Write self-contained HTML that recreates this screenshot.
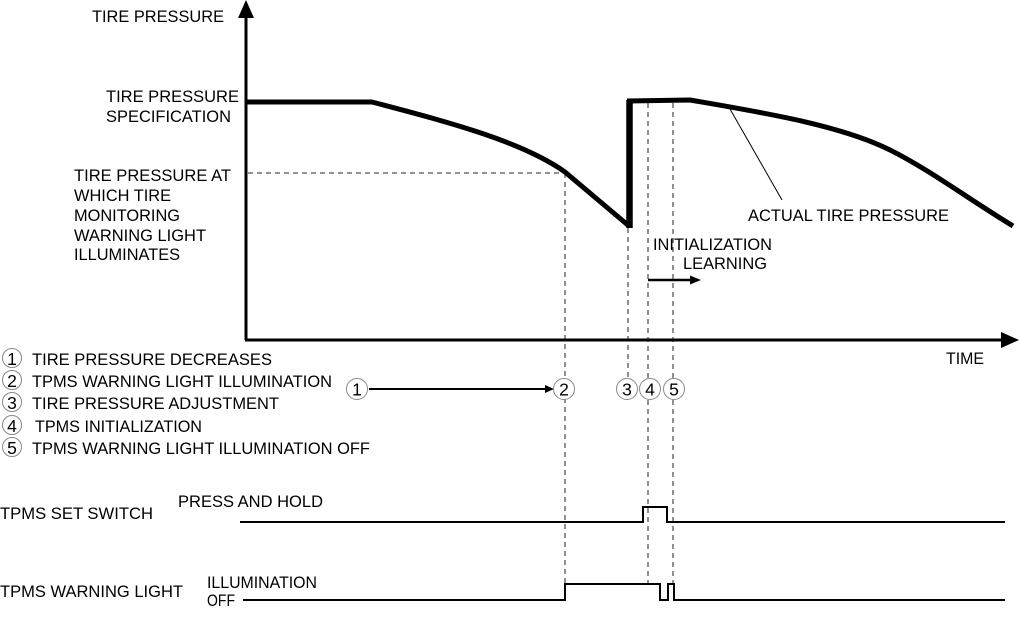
<!DOCTYPE html>
<html><head><meta charset="utf-8"><style>
html,body{margin:0;padding:0;background:#fff;}
svg{display:block;}
text{font-family:"Liberation Sans",Arial,sans-serif;font-size:16.5px;fill:#000;}
.d{stroke:#555;stroke-width:1.3;stroke-dasharray:5 4;fill:none;}
.c{fill:#fff;stroke:#888;stroke-width:1;}
.n{font-size:17.5px;text-anchor:middle;}
</style></head><body>
<svg width="1019" height="634" viewBox="0 0 1019 634" xmlns="http://www.w3.org/2000/svg">
<!-- dashed guides -->
<line class="d" x1="248" y1="173" x2="565" y2="173"/>
<line class="d" x1="565" y1="173" x2="565" y2="584"/>
<line class="d" x1="628" y1="228" x2="628" y2="378"/>
<line class="d" x1="648" y1="103" x2="648" y2="584"/>
<line class="d" x1="673" y1="103" x2="673" y2="584"/>

<!-- axes -->
<line x1="246" y1="340" x2="246" y2="15" stroke="#000" stroke-width="3"/>
<polygon points="246,0 238,18 254,18" fill="#000"/>
<line x1="245" y1="340" x2="1003" y2="340" stroke="#000" stroke-width="3"/>
<polygon points="1019,340 1001,332 1001,348" fill="#000"/>

<!-- pressure curve -->
<path d="M246,102 L372,102 C440,120 520,140 565,172 L629,226" fill="none" stroke="#000" stroke-width="5" stroke-linejoin="round"/>
<line x1="629.5" y1="228" x2="629.5" y2="100" stroke="#000" stroke-width="6.5"/>
<path d="M627,101 L690,100 C760,112 840,125 890,150 C930,170 970,200 1013,226" fill="none" stroke="#000" stroke-width="5" stroke-linejoin="round"/>
<line x1="730" y1="109" x2="782" y2="200" stroke="#000" stroke-width="1"/>

<!-- initialization arrow -->
<line x1="648" y1="280" x2="691" y2="280" stroke="#000" stroke-width="2.5"/>
<polygon points="701,280 690,275.5 690,284.5" fill="#000"/>

<!-- timeline arrow 1 -> 2 -->
<line x1="369" y1="389" x2="547" y2="389" stroke="#000" stroke-width="2"/>
<polygon points="554,389 545,385 545,393" fill="#000"/>

<!-- timeline circles -->
<circle class="c" cx="357" cy="389" r="10.5"/><text class="n" x="357" y="395.5">1</text>
<circle class="c" cx="564" cy="389" r="10.5"/><text class="n" x="564" y="395.5">2</text>
<circle class="c" cx="627" cy="389" r="10.5"/><text class="n" x="627" y="395.5">3</text>
<circle class="c" cx="650" cy="389" r="10.5"/><text class="n" x="650" y="395.5">4</text>
<circle class="c" cx="674" cy="389" r="10.5"/><text class="n" x="674" y="395.5">5</text>

<!-- signals -->
<polyline points="240,522 643,522 643,507 667,507 667,522 1005,522" fill="none" stroke="#000" stroke-width="2"/>
<polyline points="243,600 565,600 565,584 660,584 660,600 668,600 668,584 674,584 674,600 1005,600" fill="none" stroke="#000" stroke-width="2"/>

<!-- labels -->
<text x="92" y="22" textLength="132" lengthAdjust="spacingAndGlyphs">TIRE PRESSURE</text>
<text x="106" y="102" textLength="133" lengthAdjust="spacingAndGlyphs">TIRE PRESSURE</text>
<text x="106" y="122" textLength="125" lengthAdjust="spacingAndGlyphs">SPECIFICATION</text>
<text x="74" y="181" textLength="157" lengthAdjust="spacingAndGlyphs">TIRE PRESSURE AT</text>
<text x="74" y="201" textLength="97" lengthAdjust="spacingAndGlyphs">WHICH TIRE</text>
<text x="74" y="221" textLength="106" lengthAdjust="spacingAndGlyphs">MONITORING</text>
<text x="74" y="241" textLength="132" lengthAdjust="spacingAndGlyphs">WARNING LIGHT</text>
<text x="74" y="260" textLength="106" lengthAdjust="spacingAndGlyphs">ILLUMINATES</text>
<text x="748" y="221" textLength="201" lengthAdjust="spacingAndGlyphs">ACTUAL TIRE PRESSURE</text>
<text x="946" y="364" textLength="38" lengthAdjust="spacingAndGlyphs">TIME</text>
<text x="653" y="250" textLength="119" lengthAdjust="spacingAndGlyphs">INITIALIZATION</text>
<text x="683" y="269" textLength="84" lengthAdjust="spacingAndGlyphs">LEARNING</text>

<!-- legend -->
<circle class="c" cx="12" cy="358" r="9.5"/><text class="n" x="12" y="365">1</text>
<circle class="c" cx="12" cy="380" r="9.5"/><text class="n" x="12" y="387">2</text>
<circle class="c" cx="12" cy="402" r="9.5"/><text class="n" x="12" y="409">3</text>
<circle class="c" cx="12" cy="425" r="9.5"/><text class="n" x="12" y="432">4</text>
<circle class="c" cx="12" cy="447" r="9.5"/><text class="n" x="12" y="454">5</text>
<text x="32" y="365" textLength="240" lengthAdjust="spacingAndGlyphs">TIRE PRESSURE DECREASES</text>
<text x="32" y="387" textLength="300" lengthAdjust="spacingAndGlyphs">TPMS WARNING LIGHT ILLUMINATION</text>
<text x="32" y="409" textLength="247" lengthAdjust="spacingAndGlyphs">TIRE PRESSURE ADJUSTMENT</text>
<text x="35" y="432" textLength="167" lengthAdjust="spacingAndGlyphs">TPMS INITIALIZATION</text>
<text x="32" y="454" textLength="338" lengthAdjust="spacingAndGlyphs">TPMS WARNING LIGHT ILLUMINATION OFF</text>

<text x="0" y="519" textLength="153" lengthAdjust="spacingAndGlyphs">TPMS SET SWITCH</text>
<text x="178" y="507" textLength="145" lengthAdjust="spacingAndGlyphs">PRESS AND HOLD</text>
<text x="0" y="597" textLength="183" lengthAdjust="spacingAndGlyphs">TPMS WARNING LIGHT</text>
<text x="207" y="588" textLength="110" lengthAdjust="spacingAndGlyphs">ILLUMINATION</text>
<text x="207" y="606" textLength="28" lengthAdjust="spacingAndGlyphs">OFF</text>
</svg>
</body></html>
